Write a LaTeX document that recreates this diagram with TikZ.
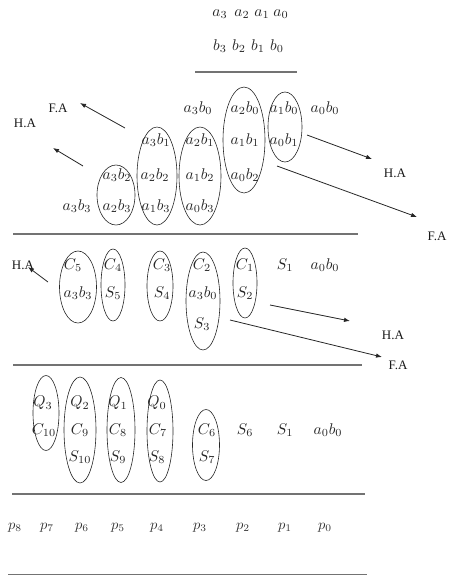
\documentclass[tikz,border=0pt]{standalone}
\usepackage{fontspec}
\newfontfamily\lab{Liberation Serif}
\usetikzlibrary{shapes.geometric,arrows.meta}
\begin{document}
\begin{tikzpicture}[x=1pt,y=-1pt]
\tikzset{
 m/.style={inner sep=0pt, anchor=center, scale=1.55, transform shape, text=black!85},
 pm/.style={inner sep=0pt, anchor=center, text=black!80, scale=1.45, transform shape},
 lbl/.style={font=\lab\fontsize{13}{15}\selectfont, inner sep=0pt, text=black!90},
 ov/.style={draw=black!85, line width=0.6pt, ellipse, inner sep=0pt},
 rule/.style={draw=black!55, line width=1.3pt},
 arr/.style={draw=black!85, line width=0.8pt, -{Latex[length=6pt,width=4.5pt]}}
}
\useasboundingbox (0,0) rectangle (450,576);
% operands
\node[m] (ta3) at (220,14) {$a_3$};
\node[m] (ta2) at (242,14) {$a_2$};
\node[m] (ta1) at (262,14) {$a_1$};
\node[m] (ta0) at (281,14) {$a_0$};
\node[m] (tb3) at (220,46) {$b_3$};
\node[m] (tb2) at (239,46) {$b_2$};
\node[m] (tb1) at (258,46) {$b_1$};
\node[m] (tb0) at (277,46) {$b_0$};
\coordinate (r0a) at (195,72); \coordinate (r0b) at (297,72);
\draw[rule] (r0a) -- (r0b);
% stage 1 ellipses
\node[ov, minimum width=38, minimum height=60] (e11) at (116,195) {};
\node[ov, minimum width=40, minimum height=98] (e12) at (157,176) {};
\node[ov, minimum width=42, minimum height=98] (e13) at (200,176) {};
\node[ov, minimum width=42, minimum height=106] (e14) at (244,140) {};
\node[ov, minimum width=34, minimum height=70] (e15) at (285,127) {};
% stage 1 terms
\node[m] (p30) at (198,108) {$a_3b_0$};
\node[m] (p20) at (245,108) {$a_2b_0$};
\node[m] (p10) at (284,108) {$a_1b_0$};
\node[m] (p00) at (325,108) {$a_0b_0$};
\node[m] (p31) at (156,140) {$a_3b_1$};
\node[m] (p21) at (200,140) {$a_2b_1$};
\node[m] (p11) at (245,140) {$a_1b_1$};
\node[m] (p01) at (284,140) {$a_0b_1$};
\node[m] (p32) at (117,175) {$a_3b_2$};
\node[m] (p22) at (155,175) {$a_2b_2$};
\node[m] (p12) at (200,175) {$a_1b_2$};
\node[m] (p02) at (245,175) {$a_0b_2$};
\node[m] (p33) at (77,206) {$a_3b_3$};
\node[m] (p23) at (117,206) {$a_2b_3$};
\node[m] (p13) at (156,206) {$a_1b_3$};
\node[m] (p03) at (200,206) {$a_0b_3$};
% stage 1 labels and arrows
\node[lbl] (fa1) at (58,108) {F.A};
\node[lbl] (ha1) at (25,123) {H.A};
\node[lbl] (ha2) at (395,173) {H.A};
\node[lbl] (fa2) at (437,236) {F.A};
\coordinate (a1s) at (125,128); \coordinate (a1e) at (80,103);
\coordinate (a2s) at (83,166); \coordinate (a2e) at (53,148);
\coordinate (a3s) at (307,135); \coordinate (a3e) at (372,159);
\coordinate (a4s) at (277,166); \coordinate (a4e) at (417,217);
\draw[arr] (a1s) -- (a1e);
\draw[arr] (a2s) -- (a2e);
\draw[arr] (a3s) -- (a3e);
\draw[arr] (a4s) -- (a4e);
\coordinate (r1a) at (13,234); \coordinate (r1b) at (358,234);
\draw[rule] (r1a) -- (r1b);
% stage 2 ellipses
\node[ov, minimum width=37, minimum height=72] (e21) at (78,287) {};
\node[ov, minimum width=24, minimum height=72] (e22) at (113,285) {};
\node[ov, minimum width=26, minimum height=70] (e23) at (160,286) {};
\node[ov, minimum width=34, minimum height=98] (e24) at (203,301) {};
\node[ov, minimum width=24, minimum height=70] (e25) at (245,283) {};
% stage 2 terms
\node[m] (c5) at (73,265) {$C_5$};
\node[m] (c4) at (113,265) {$C_4$};
\node[m] (c3) at (162,265) {$C_3$};
\node[m] (c2) at (202,265) {$C_2$};
\node[m] (c1) at (245,265) {$C_1$};
\node[m] (s1a) at (285,265) {$S_1$};
\node[m] (q00a) at (325,265) {$a_0b_0$};
\node[m] (q33) at (78,293) {$a_3b_3$};
\node[m] (s5) at (113,293) {$S_5$};
\node[m] (s4) at (162,293) {$S_4$};
\node[m] (q30) at (203,293) {$a_3b_0$};
\node[m] (s2) at (245,293) {$S_2$};
\node[m] (s3) at (202,324) {$S_3$};
% stage 2 labels and arrows
\node[lbl] (ha3) at (23,265) {H.A};
\node[lbl] (ha4) at (393,335) {H.A};
\node[lbl] (fa3) at (398,365) {F.A};
\coordinate (b1s) at (48,282); \coordinate (b1e) at (28,267);
\coordinate (b2s) at (270,305); \coordinate (b2e) at (350,321);
\coordinate (b3s) at (230,320); \coordinate (b3e) at (382,357);
\draw[arr] (b1s) -- (b1e);
\draw[arr] (b2s) -- (b2e);
\draw[arr] (b3s) -- (b3e);
\coordinate (r2a) at (13,365); \coordinate (r2b) at (362,365);
\draw[rule] (r2a) -- (r2b);
% stage 3 ellipses
\node[ov, minimum width=26, minimum height=75] (e31) at (46,413) {};
\node[ov, minimum width=32, minimum height=106] (e32) at (80,430) {};
\node[ov, minimum width=28, minimum height=105] (e33) at (121,430) {};
\node[ov, minimum width=26, minimum height=102] (e34) at (160,431) {};
\node[ov, minimum width=27, minimum height=71] (e35) at (206,445) {};
% stage 3 terms
\node[m] (qq3) at (43,403) {$Q_3$};
\node[m] (qq2) at (80,403) {$Q_2$};
\node[m] (qq1) at (118,403) {$Q_1$};
\node[m] (qq0) at (157,403) {$Q_0$};
\node[m] (c10) at (44,430) {$C_{10}$};
\node[m] (c9) at (80,430) {$C_9$};
\node[m] (c8) at (118,430) {$C_8$};
\node[m] (c7) at (158,430) {$C_7$};
\node[m] (c6) at (207,430) {$C_6$};
\node[m] (s6) at (245,430) {$S_6$};
\node[m] (s1b) at (285,430) {$S_1$};
\node[m] (q00b) at (328,430) {$a_0b_0$};
\node[m] (s10) at (80,457) {$S_{10}$};
\node[m] (s9) at (118,457) {$S_9$};
\node[m] (s8) at (157,457) {$S_8$};
\node[m] (s7) at (207,457) {$S_7$};
\coordinate (r3a) at (12,494); \coordinate (r3b) at (365,494);
\draw[rule] (r3a) -- (r3b);
% product
\node[pm] (pp8) at (15,528) {$p_8$};
\node[pm] (pp7) at (47,528) {$p_7$};
\node[pm] (pp6) at (82,528) {$p_6$};
\node[pm] (pp5) at (118,528) {$p_5$};
\node[pm] (pp4) at (157,528) {$p_4$};
\node[pm] (pp3) at (200,528) {$p_3$};
\node[pm] (pp2) at (243,528) {$p_2$};
\node[pm] (pp1) at (285,528) {$p_1$};
\node[pm] (pp0) at (325,528) {$p_0$};
\coordinate (r4a) at (8,574.5); \coordinate (r4b) at (367,574.5);
\draw[rule] (r4a) -- (r4b);
\end{tikzpicture}
\end{document}
